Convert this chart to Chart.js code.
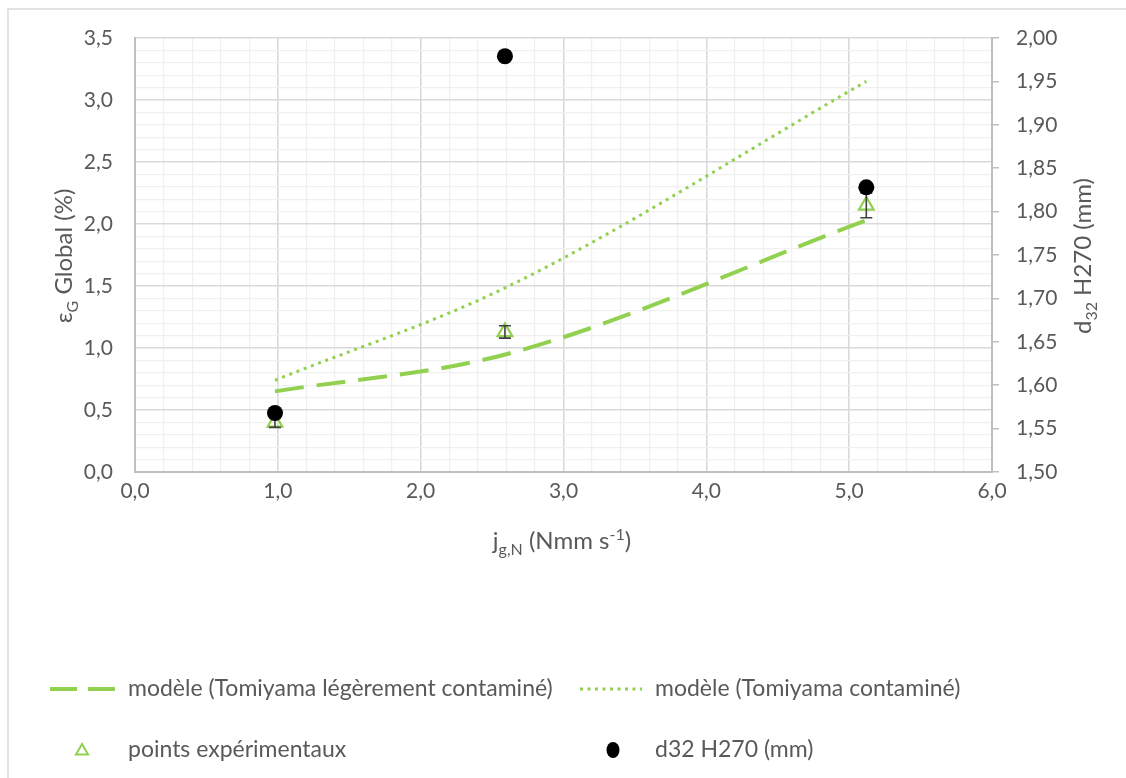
<!DOCTYPE html>
<html><head><meta charset="utf-8">
<script src="https://cdn.jsdelivr.net/npm/chart.js@4"></script>
<style>html,body{margin:0;padding:0;background:#fff}#wrap{width:1126px;height:778px;position:relative}</style>
</head><body><div id="wrap"><canvas id="c" width="1126" height="778"></canvas></div>
<script>
// ---- data ----
const jgModel = [0.98, 2.6, 5.12];
const epsTomiyamaLight = [0.65, 0.95, 2.03];
const epsTomiyamaCont = [0.74, 1.49, 3.15];
const jgExp = [0.98, 2.59, 5.12];
const epsExp = [0.40, 1.13, 2.15];
const epsExpErr = [0.04, 0.05, 0.10];
const jgD32 = [0.98, 2.59, 5.12];
const d32H270 = [1.568, 1.979, 1.828];
const seriesLabels = ['modèle (Tomiyama légèrement contaminé)', 'modèle (Tomiyama contaminé)', 'points expérimentaux', 'd32 H270 (mm)'];

const GREEN = '#92d050';
const TXT = '#595959';
const FONT = 'Lato, "Open Sans", sans-serif';
const pts = (xs, ys) => xs.map((x, i) => ({x: x, y: ys[i]}));
const near = (v, step) => Math.abs(v / step - Math.round(v / step)) < 1e-6;
const fmt = (v, d) => v.toFixed(d).replace('.', ',');

const errorBars = {
  id: 'errorBars',
  afterDatasetDraw(chart, args) {
    if (args.index !== 1) return;
    const ctx = chart.ctx, xs = chart.scales.x, ys = chart.scales.y;
    ctx.save();
    ctx.strokeStyle = '#404040'; ctx.lineWidth = 1.6;
    jgExp.forEach((x, i) => {
      const px = xs.getPixelForValue(x);
      const y1 = ys.getPixelForValue(epsExp[i] - epsExpErr[i]);
      const y2 = ys.getPixelForValue(epsExp[i] + epsExpErr[i]);
      ctx.beginPath();
      ctx.moveTo(px, y1); ctx.lineTo(px, y2);
      ctx.moveTo(px - 6, y1); ctx.lineTo(px + 6, y1);
      ctx.moveTo(px - 6, y2); ctx.lineTo(px + 6, y2);
      ctx.stroke();
    });
    ctx.restore();
  }
};

// parts: [text, mode]; baseline of normal text at local y = 0
function drawSubText(ctx, parts, cx, by, rot) {
  const base = 24, small = 16;
  ctx.save();
  ctx.translate(cx, by);
  if (rot) ctx.rotate(rot);
  let total = 0;
  parts.forEach(p => { ctx.font = (p[1] === 'n' ? base : small) + 'px ' + FONT; total += ctx.measureText(p[0]).width; });
  let x = -total / 2;
  ctx.fillStyle = TXT; ctx.textBaseline = 'alphabetic'; ctx.textAlign = 'left';
  parts.forEach(p => {
    ctx.font = (p[1] === 'n' ? base : small) + 'px ' + FONT;
    const dy = p[1] === 'sub' ? 6 : (p[1] === 'sup' ? -9 : 0);
    ctx.fillText(p[0], x, dy);
    x += ctx.measureText(p[0]).width;
  });
  ctx.restore();
}

const decor = {
  id: 'decor',
  afterDraw(chart) {
    const ctx = chart.ctx;
    ctx.save();
    ctx.strokeStyle = '#d9d9d9'; ctx.lineWidth = 1.5;
    ctx.beginPath(); ctx.moveTo(8, 790); ctx.lineTo(8, 9); ctx.lineTo(1140, 9); ctx.stroke();
    ctx.restore();
    // axis titles (rotated -90: baseline offset maps to +x on screen)
    ctx.save(); ctx.translate(72, 256); ctx.rotate(-Math.PI / 2);
    drawSubText(ctx, [['ε', 'n'], ['G', 'sub'], [' Global (%)', 'n']], 0, 0, 0);
    ctx.restore();
    ctx.save(); ctx.translate(1091, 256); ctx.rotate(-Math.PI / 2);
    drawSubText(ctx, [['d', 'n'], ['32', 'sub'], [' H270 (mm)', 'n']], 0, 0, 0);
    ctx.restore();
    drawSubText(ctx, [['j', 'n'], ['g,N', 'sub'], [' (Nmm s', 'n'], ['-1', 'sup'], [')', 'n']], 562, 549, 0);
    // legend
    ctx.save();
    ctx.font = '23px ' + FONT; ctx.fillStyle = TXT; ctx.textBaseline = 'middle'; ctx.textAlign = 'left';
    const r1 = 689, r2 = 750;
    ctx.strokeStyle = GREEN; ctx.lineWidth = 4; ctx.setLineDash([27, 11]);
    ctx.beginPath(); ctx.moveTo(50, r1); ctx.lineTo(118, r1); ctx.stroke();
    ctx.fillText(seriesLabels[0], 128, r1);
    ctx.lineWidth = 3; ctx.setLineDash([3, 4.5]);
    ctx.beginPath(); ctx.moveTo(580, r1); ctx.lineTo(642, r1); ctx.stroke();
    ctx.setLineDash([]);
    ctx.fillText(seriesLabels[1], 655, r1);
    ctx.lineWidth = 2;
    const tr = 7, tx = 82, ty = r2 + 1;
    ctx.beginPath();
    ctx.moveTo(tx, ty - tr); ctx.lineTo(tx + tr * 0.866, ty + tr / 2); ctx.lineTo(tx - tr * 0.866, ty + tr / 2); ctx.closePath();
    ctx.stroke();
    ctx.fillText(seriesLabels[2], 128, r2);
    ctx.fillStyle = '#000';
    ctx.beginPath(); ctx.ellipse(613, r2, 6.5, 8, 0, 0, Math.PI * 2); ctx.fill();
    ctx.fillStyle = TXT;
    ctx.fillText(seriesLabels[3], 655, r2);
    ctx.restore();
  }
};

new Chart(document.getElementById('c'), {
  type: 'scatter',
  data: {
    datasets: [
      { label: seriesLabels[3], data: pts(jgD32, d32H270), yAxisID: 'y2', order: 0,
        pointStyle: 'circle', pointRadius: 8, backgroundColor: '#000', borderColor: '#000', borderWidth: 0, showLine: false },
      { label: seriesLabels[2], data: pts(jgExp, epsExp), yAxisID: 'y', order: 1,
        pointStyle: 'triangle', pointRadius: 8.5, backgroundColor: 'rgba(0,0,0,0)', borderColor: GREEN, borderWidth: 2.2, showLine: false },
      { label: seriesLabels[0], data: pts(jgModel, epsTomiyamaLight), yAxisID: 'y', order: 2,
        showLine: true, borderColor: GREEN, borderWidth: 4, borderDash: [29, 13], pointRadius: 0,
        cubicInterpolationMode: 'monotone', fill: false },
      { label: seriesLabels[1], data: pts(jgModel, epsTomiyamaCont), yAxisID: 'y', order: 3,
        showLine: true, borderColor: GREEN, borderWidth: 3, borderDash: [3, 4.7], pointRadius: 0,
        cubicInterpolationMode: 'monotone', fill: false }
    ]
  },
  options: {
    responsive: false, animation: false, devicePixelRatio: 1,
    layout: { padding: { top: 38, left: 0, right: 0, bottom: 261 } },
    plugins: { legend: { display: false }, tooltip: { enabled: false } },
    scales: {
      x: {
        type: 'linear', min: 0, max: 6,
        afterFit: s => { s.height = 45; },
        ticks: { stepSize: 0.2, autoSkip: false, maxRotation: 0, padding: 7, color: TXT, font: { family: FONT, size: 21 },
          callback: v => near(v, 1) ? fmt(v, 1) : '' },
        grid: { drawTicks: false, color: c => near(c.tick.value, 1) ? '#d9d9d9' : '#f0f0f0', lineWidth: c => near(c.tick.value, 1) ? 1.6 : 1.2 },
        border: { color: '#bfbfbf', width: 2 }
      },
      y: {
        type: 'linear', position: 'left', min: 0, max: 3.5,
        afterFit: s => { s.width = 135; },
        ticks: { stepSize: 0.1, autoSkip: false, padding: 22, color: TXT, font: { family: FONT, size: 21 },
          callback: v => near(v, 0.5) ? fmt(v, 1) : '' },
        grid: { drawTicks: false, color: c => near(c.tick.value, 0.5) ? '#d9d9d9' : '#f0f0f0', lineWidth: c => near(c.tick.value, 0.5) ? 1.6 : 1.2 },
        border: { color: '#bfbfbf', width: 2 }
      },
      y2: {
        type: 'linear', position: 'right', min: 1.5, max: 2.0,
        afterFit: s => { s.width = 134; },
        ticks: { stepSize: 0.05, autoSkip: false, padding: 17, color: TXT, font: { family: FONT, size: 21 },
          callback: v => fmt(v, 2) },
        grid: { drawOnChartArea: false, drawTicks: true, tickLength: 7, color: '#bfbfbf', lineWidth: 1.5 },
        border: { color: '#bfbfbf', width: 2 }
      }
    }
  },
  plugins: [errorBars, decor]
});
</script></body></html>
